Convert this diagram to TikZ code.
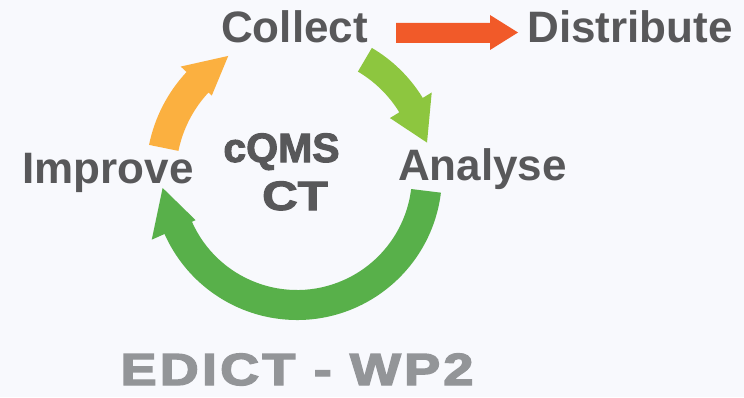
\documentclass[tikz,border=0pt]{standalone}
\usepackage{fontspec}
\setmainfont{Liberation Sans}
\newfontfamily\lblfont{Liberation Sans Bold}
\newfontfamily\heavyfont{Liberation Sans Bold}[FakeBold=2.5]
\newfontfamily\edictfont{Liberation Sans Bold}[FakeBold=3,LetterSpace=6]
\usetikzlibrary{calc}
\definecolor{bgc}{HTML}{F8F9FD}
\definecolor{txt}{HTML}{58585A}
\definecolor{edc}{HTML}{939598}
\definecolor{orangeA}{HTML}{FBB040}
\definecolor{limeA}{HTML}{8DC63F}
\definecolor{greenA}{HTML}{58B04A}
\definecolor{redA}{HTML}{F15A29}
\tikzset{
  lbl/.style={text=txt, font=\lblfont\fontsize{44}{50}\selectfont, anchor=base, inner sep=0pt},
  ctr/.style={text=txt, font=\heavyfont\fontsize{41}{46}\selectfont, anchor=base, inner sep=0pt},
  ttl/.style={text=edc, font=\edictfont\fontsize{45}{50}\selectfont, anchor=base, inner sep=0pt},
}
\begin{document}
\begin{tikzpicture}[x=1pt,y=1pt]
\fill[bgc] (0,0) rectangle (744,397);
\useasboundingbox (0,0) rectangle (744,397);
\coordinate (C) at (297,222);
% big green arrow: Analyse -> Improve
\fill[greenA] ($(C)+(-7:145)$) arc[start angle=-7, end angle=-156, radius=145]
  -- ($(C)+(204:159)$) -- ($(C)+(185.5:135)$) -- ($(C)+(204:111)$) -- ($(C)+(204:115)$)
  arc[start angle=204, end angle=353, radius=115] -- cycle;
% orange arrow: Improve -> Collect
\fill[orangeA] ($(C)+(168.5:151)$) arc[start angle=168.5, end angle=137, radius=151]
  -- ($(C)+(137:159)$) -- ($(C)+(120:137.5)$) -- ($(C)+(137:116.5)$) -- ($(C)+(137:121)$)
  arc[start angle=137, end angle=168.5, radius=121] -- cycle;
% lime arrow: Collect -> Analyse
\fill[limeA] ($(C)+(59.5:147.5)$) arc[start angle=59.5, end angle=31.5, radius=147.5]
  -- ($(C)+(31.5:158)$) -- ($(C)+(14:134)$) -- ($(C)+(31.5:109)$) -- ($(C)+(31.5:120)$)
  arc[start angle=31.5, end angle=59.5, radius=120] -- cycle;
% labels
\node[lbl] (collect) at (294.5,354) {Collect};
\node[lbl] (distribute) at (630,354) {Distribute};
\node[lbl] (improve) at (108,214) {Improve};
\node[lbl] (analyse) at (482.5,217) {Analyse};
\node[ctr] (cqms) at (281.5,235) {cQMS};
\node[ctr] (ct) at (295,187) {\scalebox{1.2}[1]{CT}};
\node[ttl] (edict) at (297,12) {\scalebox{1.2}[1]{EDICT - WP2}};
% red arrow: Collect -> Distribute
\fill[redA] (396,354) -- (490,354) -- (490,347) -- (518,364.5) -- (490,382) -- (490,374) -- (396,374) -- cycle;
\end{tikzpicture}
\end{document}
